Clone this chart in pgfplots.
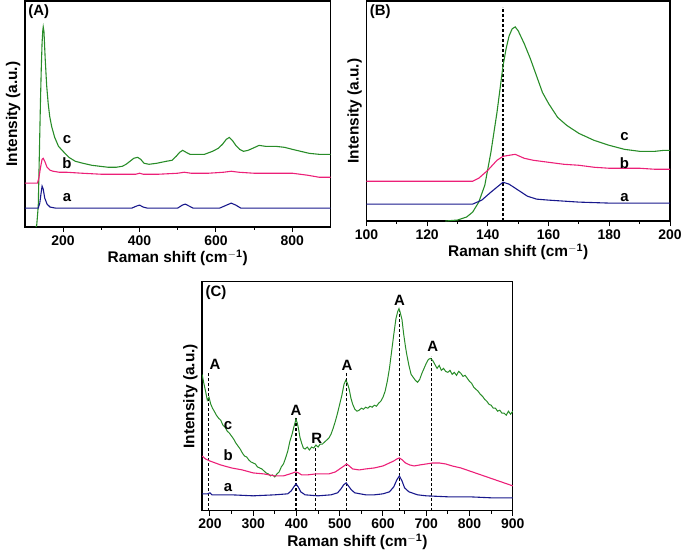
\documentclass[border=0pt]{standalone}
\usepackage{pgfplots}
\pgfplotsset{compat=1.18}
\usepackage{fontspec}
\setmainfont{Liberation Sans}
\setsansfont{Liberation Sans}

\definecolor{cgreen}{RGB}{40,140,40}
\definecolor{cpink}{RGB}{236,32,120}
\definecolor{cblue}{RGB}{24,24,140}

\tikzset{lab/.style={font=\bfseries\fontsize{15}{17}\selectfont}}

\pgfplotsset{
  raman/.style={
    scale only axis,
    anchor=south west,
    axis line style={line width=1.3pt},
    ytick=\empty,
    xtick pos=bottom,
    tick align=outside,
    major tick length=5pt,
    minor tick length=3pt,
    every tick/.style={line width=1pt, black},
    minor x tick num=1,
    /pgf/number format/assume math mode=true,
    /pgf/number format/1000 sep={},
    ticklabel style={font=\bfseries\fontsize{14}{16}\selectfont},
    label style={font=\bfseries\fontsize{15.5}{18}\selectfont},
    xlabel={Raman shift (cm$^{\mathbf{-1}}$)},
    ylabel={Intensity (a.u.)},
    xlabel style={yshift=2pt},
    ylabel style={yshift=-4pt},
    clip=true,
    every axis plot/.append style={line width=1.1pt},
  },
}

\begin{document}
\begin{tikzpicture}
\path (0pt,0pt) rectangle (685pt,555pt);

% ---------------- (A)
\begin{axis}[raman, at={(25pt,327pt)}, width=307pt, height=227pt,
  xmin=100, xmax=900, ymin=0, ymax=227, xtick={200,400,600,800}]
\addplot[cgreen] coordinates {
(129,0) (131,2) (135,21) (139,94) (141,130) (143,161) (145,185) (147,198) (148,201) (150,196)
(153,170) (157,142) (161,124) (165,111) (170,101) (178,90) (188,81) (200,76) (215,70) (232,66)
(252,64) (275,62) (296,61) (318,60) (339,60) (355,61) (365,63) (375,66) (385,69) (395,70) (403,68)
(412,64) (425,63) (445,64) (470,66) (485,67) (496,71) (505,75) (513,77) (522,75) (532,73) (550,73)
(570,73) (591,76) (606,79) (617,83) (627,88) (635,90) (643,87) (652,82) (662,78) (672,76) (684,77)
(696,79) (713,82) (730,81) (757,81) (780,80) (800,78) (822,76) (844,74) (870,73) (900,73)};
\addplot[cpink] coordinates {
(100,44) (133,44) (137,50) (141,60) (145,68) (148,69) (152,66) (158,60) (166,57) (174,56) (190,55)
(209,55) (250,54) (300,53) (350,53) (390,53) (400,54) (410,53) (450,53) (500,54) (517,55) (535,54)
(580,54) (620,55) (640,56) (660,55) (700,54) (760,54) (800,54) (840,52) (870,50) (900,50)};
\addplot[cblue] coordinates {
(100,19) (135,19) (139,24) (142,33) (145,41) (148,38) (152,29) (158,23) (166,20) (180,19) (300,19)
(380,19) (392,21) (400,22) (410,20) (420,19) (500,19) (512,22) (520,23) (530,21) (540,19) (610,19)
(628,22) (640,24) (652,22) (665,19) (700,19) (900,19)};
\node[lab] at (axis cs:210,88) {c};
\node[lab] at (axis cs:210,64) {b};
\node[lab] at (axis cs:210,30) {a};
\node[lab, anchor=north west] at (rel axis cs:0,1) {(A)};
\end{axis}

% ---------------- (B)
\begin{axis}[raman, at={(368pt,333pt)}, width=305pt, height=221pt,
  xmin=100, xmax=200, ymin=0, ymax=221, xtick={100,120,...,200}]
\addplot[black, densely dashed, line width=1.2pt] coordinates {(145,0) (145,215)};
\addplot[cgreen] coordinates {
(126,0) (130,1) (133,4) (135,9) (137,19) (139,36) (141,69) (143,109) (145,156) (146,173)
(147,186) (148,193) (149,195) (150,191) (152,178) (154,163) (156,146) (158,129) (160,118) (163,104)
(166,96) (168,92) (170,88) (175,81) (180,76) (185,72) (190,70) (195,70) (198,71) (200,71)};
\addplot[cpink] coordinates {
(100,40) (135,40) (137,43) (140,51) (143,61) (145,65) (147,66) (149,67) (152,63) (155,61) (160,59)
(165,57) (170,56) (175,54) (180,53) (190,53) (195,52) (200,52)};
\addplot[cblue] coordinates {
(100,17) (135,17) (138,21) (141,29) (143,34) (145,39) (147,37) (150,31) (153,25) (156,22) (160,21)
(170,19) (180,18) (200,18)};
\node[lab] at (axis cs:185,85) {c};
\node[lab] at (axis cs:185,58) {b};
\node[lab] at (axis cs:185,24) {a};
\node[lab, anchor=north west] at (rel axis cs:0,1) {(B)};
\end{axis}

% ---------------- (C)
\begin{axis}[raman, at={(203pt,42pt)}, width=312pt, height=230pt,
  xmin=182, xmax=900, ymin=0, ymax=230, xtick={200,300,...,900}]
\addplot[black, densely dashed, line width=1.2pt] coordinates {(197,0) (197,138)};
\addplot[black, densely dashed, line width=1.2pt] coordinates {(399,0) (399,93)};
\addplot[black, densely dashed, line width=1.2pt] coordinates {(445,0) (445,63)};
\addplot[black, densely dashed, line width=1.2pt] coordinates {(515,0) (515,138)};
\addplot[black, densely dashed, line width=1.2pt] coordinates {(638,0) (638,202)};
\addplot[black, densely dashed, line width=1.2pt] coordinates {(713,0) (713,155)};
\addplot[cgreen, line width=1pt] coordinates {
(182,137) (186,128) (190,120) (194,111) (198,114) (202,107) (206,103) (210,100) (215,96) (220,93)
(225,91) (230,86) (235,84) (240,80) (245,78) (250,75) (255,72) (260,68) (265,65) (270,62) (275,58)
(280,55) (285,54) (290,51) (295,49) (300,48) (305,47) (310,44) (315,43) (320,42) (325,40) (330,38)
(335,37) (340,35) (345,36) (350,34) (355,37) (360,39) (365,44) (370,47) (375,53) (380,60) (385,70)
(390,77) (394,84) (399,92) (402,88) (405,82) (408,74) (412,68) (416,63) (420,62) (425,64) (430,61)
(435,64) (440,63) (445,66) (450,64) (455,67) (460,67) (465,69) (470,71) (475,73) (480,77) (485,83)
(490,90) (495,98) (500,107) (505,116) (510,127) (514,131) (518,128) (522,122) (526,113) (530,107)
(535,102) (540,100) (545,101) (550,103) (555,102) (560,104) (565,103) (570,105) (575,104) (580,106)
(585,105) (590,108) (595,110) (600,114) (605,120) (610,130) (615,143) (620,160) (625,177) (630,193)
(634,200) (637,203) (640,199) (644,192) (648,177) (652,165) (655,157) (660,146) (665,137) (670,134)
(675,131) (680,129) (685,132) (690,138) (695,143) (700,148) (705,152) (710,153) (715,151) (720,147)
(725,143) (730,146) (735,141) (740,143) (745,140) (750,139) (755,141) (760,137) (765,139) (770,136)
(775,140) (780,138) (785,135) (790,136) (795,133) (800,130) (805,128) (810,124) (815,122) (820,120)
(825,117) (830,115) (835,112) (840,110) (845,107) (850,106) (855,103) (860,103) (865,100) (870,101)
(875,98) (880,98) (885,96) (890,100) (895,97) (900,100)};
\addplot[cpink] coordinates {
(182,55) (190,52) (200,50) (225,46) (250,43) (275,41) (300,38) (325,37) (350,35) (370,35) (385,37)
(398,39) (405,38) (412,36) (425,36) (445,37) (460,37) (475,37) (490,39) (500,42) (510,45) (516,47)
(522,45) (530,42) (545,41) (560,42) (580,43) (600,45) (615,48) (625,50) (632,52) (638,53) (645,51)
(652,48) (662,46) (672,45) (685,46) (700,47) (715,48) (730,48) (745,47) (760,45) (780,43) (800,40)
(820,37) (840,34) (860,31) (880,28) (900,25)};
\addplot[cblue] coordinates {
(182,17) (195,17) (200,18) (205,16) (250,16) (300,15) (350,16) (380,17) (388,20) (394,24) (399,27)
(404,24) (410,19) (420,16) (450,15) (480,16) (495,18) (503,22) (509,26) (515,28) (520,25) (527,21)
(535,18) (560,16) (580,16) (600,17) (615,19) (625,24) (632,31) (638,35) (644,30) (650,23) (660,19)
(680,16) (700,15) (750,14) (800,14) (850,13) (900,13)};
\node[lab] at (axis cs:242,86) {c};
\node[lab] at (axis cs:242,56) {b};
\node[lab] at (axis cs:242,23) {a};
\node[lab] at (axis cs:212,147) {A};
\node[lab] at (axis cs:399,101) {A};
\node[lab] at (axis cs:447,73) {R};
\node[lab] at (axis cs:517,146) {A};
\node[lab] at (axis cs:638,211) {A};
\node[lab] at (axis cs:715,165) {A};
\node[lab, anchor=north west] at (rel axis cs:0,1) {(C)};
\end{axis}
\end{tikzpicture}
\end{document}
